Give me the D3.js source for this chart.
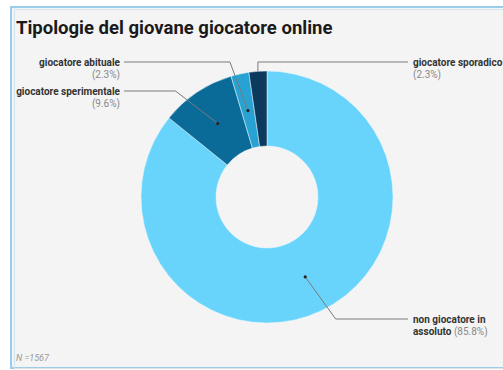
<!DOCTYPE html>
<html><head><meta charset="utf-8">
<script src="https://cdn.jsdelivr.net/npm/d3@7"></script>
<style>
html,body{margin:0;padding:0;background:#fff;}
svg{display:block;font-family:Roboto,"Noto Sans",sans-serif;}
</style></head>
<body>
<svg id="c" width="503" height="370"></svg>
<script>
// ---- data ----
const categories = ["non giocatore in assoluto", "giocatore sperimentale", "giocatore abituale", "giocatore sporadico"];
const values = [85.8, 9.6, 2.3, 2.3];
const colors = ["#68d4fb", "#0a6b98", "#28a2d3", "#0b3a5e"];
const title = "Tipologie del giovane giocatore online";
const note = "N =1567";

// ---- layout ----
const svg = d3.select("#c");
const cx = 267, cy = 197, rOuter = 126, rInner = 51, rElbow = 140;

svg.append("rect").attr("x", 11).attr("y", 7).attr("width", 520).attr("height", 361)
  .attr("fill", "#f4f4f4").attr("stroke", "#9dcbea").attr("stroke-width", 2);
svg.append("path").attr("d", "M14.5,520 V9.5 H520").attr("fill", "none")
  .attr("stroke", "#cfe5f3").attr("stroke-width", 1);
svg.append("line").attr("x1", 14).attr("x2", 503).attr("y1", 368.5).attr("y2", 368.5)
  .attr("stroke", "#e2e2e2");

svg.append("text").attr("x", 16).attr("y", 34).text(title)
  .attr("font-size", 18.5).attr("font-weight", "bold").attr("fill", "#1a1a1a");

svg.append("text").attr("x", 16).attr("y", 361).text(note)
  .attr("font-size", 9).attr("font-style", "italic").attr("fill", "#9a9a9a");

const data = categories.map((c, i) => ({ name: c, value: values[i], color: colors[i] }));
const pie = d3.pie().sort(null).value(d => d.value);
const arcs = pie(data);
const arc = d3.arc().innerRadius(rInner).outerRadius(rOuter);
const g = svg.append("g").attr("transform", `translate(${cx},${cy})`);
g.selectAll("path").data(arcs).join("path")
  .attr("d", arc).attr("fill", d => d.data.color)
  .attr("stroke", "#e8f6fd").attr("stroke-width", 0.5);

// label layout (per category): side, y of leader line, whether to use dot
const labelLayout = [
  { side: "right", y: 319, lines: [["non giocatore in", ""], ["assoluto", " (85.8%)"]], dot: true },
  { side: "left", y: 91, lines: [["giocatore sperimentale", ""], ["", "(9.6%)"]], dot: true },
  { side: "left", y: 62, lines: [["giocatore abituale", ""], ["", "(2.3%)"]], dot: true },
  { side: "right", y: 62, lines: [["giocatore sporadico", ""], ["", "(2.3%)"]], dot: false, vertical: true }
];
const labelXLeft = 120, labelXRight = 413;

arcs.forEach((a, i) => {
  const L = labelLayout[i];
  const mid = (a.startAngle + a.endAngle) / 2;
  const rc = (rInner + rOuter) / 2;
  let sx, sy;
  if (L.dot) { sx = cx + rc * Math.sin(mid); sy = cy - rc * Math.cos(mid); }
  else { sx = cx + rOuter * Math.sin(mid); sy = cy - rOuter * Math.cos(mid); }
  let ex;
  if (L.vertical) { ex = sx; }
  else {
    const dy = L.y - cy;
    const dx = Math.sqrt(Math.max(0, rElbow * rElbow - dy * dy));
    ex = cx + (L.side === "left" ? -dx : dx);
  }
  const endX = L.side === "left" ? labelXLeft + 4 : labelXRight - 5;
  svg.append("path")
    .attr("d", `M${sx},${sy} L${ex},${L.y} L${endX},${L.y}`)
    .attr("fill", "none").attr("stroke", "#7a7a7a").attr("stroke-width", 1);
  if (L.dot) svg.append("circle").attr("cx", sx).attr("cy", sy).attr("r", 1.6).attr("fill", "#222");
  L.lines.forEach((ln, j) => {
    const t = svg.append("text")
      .attr("x", L.side === "left" ? labelXLeft : labelXRight)
      .attr("y", L.y + 4 + j * 11.5)
      .attr("text-anchor", L.side === "left" ? "end" : "start")
      .attr("font-size", 10);
    if (ln[0]) t.append("tspan").text(ln[0]).attr("font-weight", "bold").attr("fill", "#333");
    if (ln[1]) t.append("tspan").text(ln[1]).attr("fill", "#8a8a8a");
  });
});
</script>
</body></html>
